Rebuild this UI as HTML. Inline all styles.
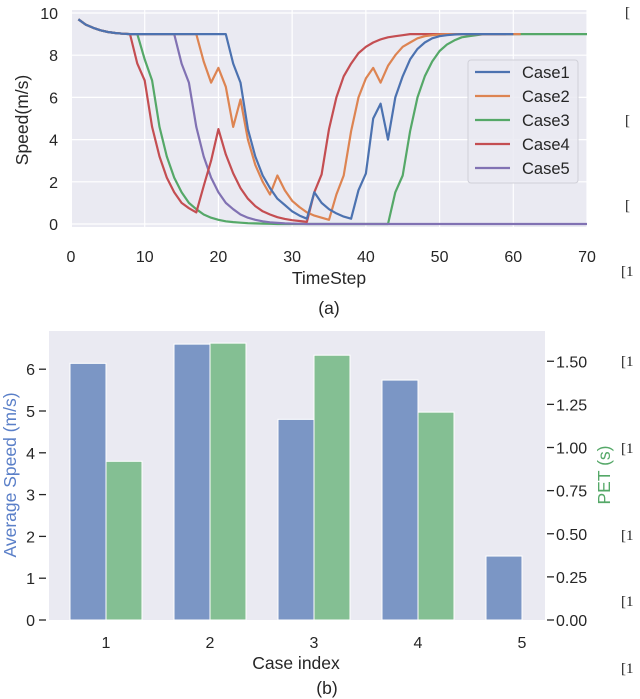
<!DOCTYPE html>
<html><head><meta charset="utf-8"><style>
body{margin:0;background:#fff;}
svg{display:block;font-family:"Liberation Sans",sans-serif;}
</style></head><body>
<svg id="svg" width="640" height="699"></svg>
<script>
const steps=[];for(let i=1;i<=70;i++)steps.push(i);
const head=[9.7,9.45,9.3,9.18,9.1,9.05,9.02,9.0];
const case1=[...head,9,9,9,9,9,9,9,9,9,9,9,9,9,7.6,6.7,4.5,3.2,2.3,1.7,1.2,0.9,0.6,0.4,0.25,1.5,1.0,0.7,0.5,0.35,0.25,1.6,2.4,5.0,5.7,4.0,6.0,7.0,7.8,8.3,8.6,8.8,8.9,8.95,8.98,9,9,9,9,9,9,9,9];
const case2=[...head,9,9,9,9,9,9,9,9,9,7.7,6.7,7.4,6.5,4.6,5.9,4.0,2.8,2.0,1.4,2.3,1.6,1.1,0.8,0.55,0.4,0.3,0.2,1.4,2.3,4.4,6.0,6.9,7.4,6.7,7.5,8.0,8.4,8.6,8.8,8.9,8.95,8.98,9,9,9,9,9,9,9,9,9,9,9];
const case3=[...head,9,7.8,6.8,4.6,3.2,2.2,1.5,1.0,0.7,0.45,0.3,0.2,0.13,0.09,0.06,0.04,0.03,0.02,0.01,0,0,0,0,0,0,0,0,0,0,0,0,0,0,0,0,1.5,2.3,4.4,6.0,7.0,7.7,8.2,8.5,8.7,8.85,8.9,8.95,9,9,9,9,9,9,9,9,9,9,9,9,9,9,9,9,9,9];
const case4=[...head,7.6,6.8,4.6,3.2,2.2,1.5,1.0,0.75,0.55,1.8,3.0,4.5,3.3,2.4,1.7,1.2,0.85,0.6,0.45,0.32,0.24,0.18,0.14,0.1,1.5,2.35,4.5,6.0,7.0,7.6,8.1,8.4,8.6,8.75,8.85,8.9,8.95,9,9,9,9,9,9,9,9,9,9,9,9,9,9];
const case5=[...head,9,9,9,9,9,9,7.6,6.7,4.6,3.2,2.2,1.5,1.0,0.7,0.45,0.3,0.2,0.13,0.08,0.05,0.03,0.02,0.01,0,0,0,0,0,0,0,0,0,0,0,0,0,0,0,0,0,0,0,0,0,0,0,0,0,0,0,0,0,0,0,0,0,0,0,0,0,0,0,0];
const seriesNames=["Case1","Case2","Case3","Case4","Case5"];
const xTicks=[0,10,20,30,40,50,60,70];
const yTicks=[0,2,4,6,8,10];

const cases=["1","2","3","4","5"];
const avgSpeed=[6.14,6.6,4.8,5.74,1.53];
const pet=[0.92,1.605,1.535,1.205,0];
const speedTicks=[0,1,2,3,4,5,6];
const petTicks=["0.00","0.25","0.50","0.75","1.00","1.25","1.50"];

const NS="http://www.w3.org/2000/svg";
const svg=document.getElementById('svg');
function mk(tag,attrs,parent,text){const e=document.createElementNS(NS,tag);for(const k in attrs)e.setAttribute(k,attrs[k]);if(text!==undefined)e.textContent=text;(parent||svg).appendChild(e);return e;}

// ---- chart (a)
const ax=v=>71+(v/70)*516;
const ay=v=>224-v*21.1;
let e=mk('rect',{x:72,y:10,width:515,height:217,fill:'#eaeaf2'});


xTicks.forEach(t=>{
 e=mk('line',{x1:ax(t),x2:ax(t),y1:10,y2:227,stroke:'#fff','stroke-width':1.2});
 
 
 e=mk('text',{x:ax(t),y:262,'font-size':16,'text-anchor':'middle',fill:'#262626'},null,t);
 
 
});
yTicks.forEach(t=>{
 e=mk('line',{x1:72,x2:587,y1:ay(t),y2:ay(t),stroke:'#fff','stroke-width':1.2});
 
 
 e=mk('text',{x:58,y:ay(t)+6,'font-size':16,'text-anchor':'end',fill:'#262626'},null,t);
 
 
});
const colors=['#4c72b0','#dd8452','#55a868','#c44e52','#8172b3'];
const data=[case1,case2,case3,case4,case5];
const order=[2,4,3,1,0];
order.forEach(i=>{
 const d=data[i].map((v,j)=>(j?'L':'M')+ax(steps[j]).toFixed(1)+','+ay(v).toFixed(1)).join('');
 e=mk('path',{d:d,fill:'none',stroke:colors[i],'stroke-width':2.2,'stroke-linejoin':'round'});
 
 
});
e=mk('text',{x:28,y:120,'font-size':17.5,'text-anchor':'middle',fill:'#262626',transform:'rotate(-90 28 120)'},null,'Speed(m/s)');


e=mk('text',{x:329,y:284,'font-size':17.5,'text-anchor':'middle',fill:'#262626'},null,'TimeStep');


e=mk('text',{x:329,y:314,'font-size':17.5,'text-anchor':'middle',fill:'#262626'},null,'(a)');


const lg=mk('g',{});


mk('rect',{x:468,y:60,width:110,height:123,rx:3,fill:'#eaeaf2',stroke:'#d0d0d8','stroke-width':1,'fill-opacity':0.85},lg);
seriesNames.forEach((n,i)=>{
 const y=72+i*24;
 e=mk('line',{x1:475,x2:510,y1:y,y2:y,stroke:colors[i],'stroke-width':2.2},lg);
 
 
 e=mk('text',{x:522,y:y+6,'font-size':16.5,fill:'#262626'},lg,n);
 
 
});

// ---- chart (b)
const bx=i=>106+i*104;
const by=v=>620-v*41.8;
const py=v=>620-v*172.5;
e=mk('rect',{x:49,y:331,width:496,height:289,fill:'#eaeaf2'});


cases.forEach((c,i)=>{
 e=mk('rect',{x:bx(i)-36,y:by(avgSpeed[i]),width:36,height:620-by(avgSpeed[i]),fill:'#7b96c5',stroke:'#fff','stroke-width':1});
 
 
 if(pet[i]>0){
 e=mk('rect',{x:bx(i),y:py(pet[i]),width:36,height:620-py(pet[i]),fill:'#84bf93',stroke:'#fff','stroke-width':1});
 
 
 }
 e=mk('text',{x:bx(i),y:648,'font-size':16,'text-anchor':'middle',fill:'#262626'},null,c);
 
 
});
speedTicks.forEach(t=>{
 e=mk('line',{x1:39,x2:46,y1:by(t),y2:by(t),stroke:'#262626','stroke-width':1.3});
 
 
 e=mk('text',{x:35,y:by(t)+6,'font-size':16,'text-anchor':'end',fill:'#262626'},null,t);
 
 
});
petTicks.forEach(t=>{
 const y=py(parseFloat(t));
 e=mk('line',{x1:547,x2:554,y1:y,y2:y,stroke:'#262626','stroke-width':1.3});
 
 
 e=mk('text',{x:556,y:y+6,'font-size':16,fill:'#262626'},null,t);
 
 
});
e=mk('text',{x:16,y:475,'font-size':17.5,'text-anchor':'middle',fill:'#5a7fc8',transform:'rotate(-90 16 475)'},null,'Average Speed (m/s)');


e=mk('text',{x:610,y:475,'font-size':17.5,'text-anchor':'middle',fill:'#55a868',transform:'rotate(-90 610 475)'},null,'PET (s)');


e=mk('text',{x:296,y:669,'font-size':17.5,'text-anchor':'middle',fill:'#262626'},null,'Case index');


e=mk('text',{x:327,y:694,'font-size':17.5,'text-anchor':'middle',fill:'#262626'},null,'(b)');



// margin brackets
const br=[[625,17,'['],[625,125,'['],[625,210,'['],[621,276,'[1'],[621,366,'[1'],[621,453,'[1'],[621,540,'[1'],[621,606,'[1'],[621,673,'[1']];
br.forEach(b=>{
 e=mk('text',{x:b[0],y:b[1],'font-size':15,fill:'#222','font-family':'Liberation Serif, serif'},null,b[2]);
 
 
});
</script>
</body></html>
